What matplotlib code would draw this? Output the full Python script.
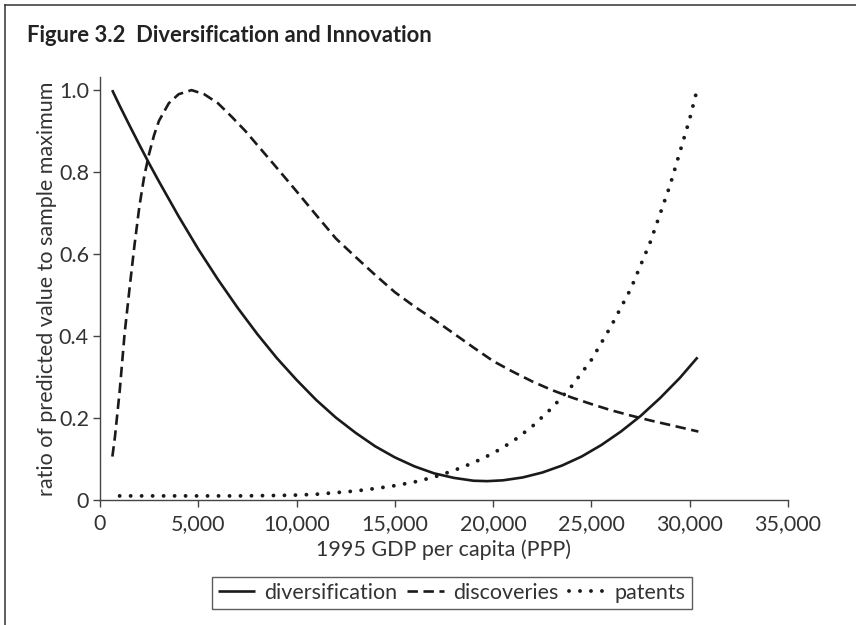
import matplotlib
matplotlib.use("Agg")
import matplotlib.pyplot as plt
from matplotlib.lines import Line2D

plt.rcParams['font.family'] = ['Lato', 'DejaVu Sans']
plt.rcParams['lines.scale_dashes'] = False

# data
div_x = [620, 1000, 1500, 2000, 2500, 3000, 4000, 5000, 6000, 7000, 8000, 9000, 10000, 11000, 12000, 13000,
         14000, 15000, 16000, 17000, 18000, 19000, 19700, 20500, 21500, 22500, 23500, 24500, 25500, 26500,
         27500, 28500, 29500, 30400]
div_y = [1.0, 0.962, 0.914, 0.867, 0.821, 0.777, 0.692, 0.612, 0.538, 0.469, 0.405, 0.346, 0.293, 0.244,
         0.201, 0.164, 0.131, 0.104, 0.082, 0.065, 0.054, 0.047, 0.046, 0.048, 0.055, 0.067, 0.084, 0.106,
         0.134, 0.167, 0.205, 0.249, 0.298, 0.348]

disc_x = [630, 760, 1000, 1250, 1500, 1750, 2000, 2250, 2500, 2750, 3000, 3500, 4000, 4660, 5300, 6000, 6700,
          7400, 8200, 9000, 10000, 11000, 12000, 13000, 14000, 15000, 16000, 17000, 18000, 19000, 20000,
          21000, 22000, 23000, 24000, 25000, 26000, 27000, 28000, 29000, 30440]
disc_y = [0.106, 0.154, 0.265, 0.405, 0.515, 0.62, 0.715, 0.79, 0.845, 0.89, 0.925, 0.968, 0.99, 1.0, 0.99,
          0.968, 0.935, 0.9, 0.855, 0.81, 0.753, 0.695, 0.638, 0.593, 0.549, 0.507, 0.472, 0.44, 0.406, 0.372,
          0.339, 0.313, 0.289, 0.268, 0.25, 0.234, 0.219, 0.206, 0.194, 0.183, 0.167]

pat_x = [1000, 4000, 7000, 9000, 10000, 11000, 12000, 13000, 14000, 15000, 16000, 17000, 18000, 19000, 20000,
         21000, 22000, 23000, 24000, 25000, 26000, 27000, 28000, 29000, 30000, 30400]
pat_y = [0.01, 0.01, 0.01, 0.011, 0.012, 0.014, 0.018, 0.022, 0.028, 0.035, 0.044, 0.056, 0.072, 0.091, 0.114,
         0.143, 0.18, 0.225, 0.278, 0.342, 0.424, 0.515, 0.63, 0.768, 0.93, 1.006]

series_names = ['diversification', 'discoveries', 'patents']
x_ticks = [0, 5000, 10000, 15000, 20000, 25000, 30000, 35000]
x_ticklabels = ['0', '5,000', '10,000', '15,000', '20,000', '25,000', '30,000', '35,000']
y_ticks = [0, 0.2, 0.4, 0.6, 0.8, 1.0]
y_ticklabels = ['0', '0.2', '0.4', '0.6', '0.8', '1.0']

fig = plt.figure(figsize=(8.56, 6.25), dpi=100)
ax = fig.add_axes([100/856, 1-500/625, 688/856, 423/625])

col = '#1a1a1a'
ax.plot(div_x, div_y, color=col, lw=1.9, solid_capstyle='butt', solid_joinstyle='round', label=series_names[0])
ax.plot(disc_x, disc_y, color=col, lw=1.9, dashes=(7.5, 4.0), dash_capstyle='butt', label=series_names[1])
ax.plot(pat_x, pat_y, color=col, lw=2.8, dashes=(0.01, 7.9), dash_capstyle='round', label=series_names[2])

ax.set_xlim(0, 35000)
ax.set_ylim(0, 1.032)
ax.set_xticks(x_ticks)
ax.set_xticklabels(x_ticklabels)
ax.set_yticks(y_ticks)
ax.set_yticklabels(y_ticklabels)
for s in ['top', 'right']:
    ax.spines[s].set_visible(False)
for s in ['left', 'bottom']:
    ax.spines[s].set_linewidth(1.0)
    ax.spines[s].set_color('#444444')
ax.tick_params(direction='out', length=5, width=1.0, color='#444444', labelsize=15.5, labelcolor='#333333')
ax.tick_params(axis='x', pad=5)
ax.tick_params(axis='y', pad=3)

ax.set_xlabel('1995 GDP per capita (PPP)', fontsize=15.5, color='#333333', labelpad=4)
ax.set_ylabel('ratio of predicted value to sample maximum', fontsize=15.5, color='#333333', labelpad=1)

leg = ax.legend(loc='upper center', bbox_to_anchor=(452/856, 1-577/625), bbox_transform=fig.transFigure,
                ncol=3, frameon=True, fancybox=False, fontsize=15.5, handlelength=1.7, handletextpad=0.45,
                columnspacing=0.45, borderpad=0.28, borderaxespad=0)
leg.get_frame().set_edgecolor('#333333')
leg.get_frame().set_linewidth(1.0)
for t in leg.get_texts():
    t.set_color('#333333')

fig.text(27/856, 1-42/625, 'Figure 3.2  Diversification and Innovation', fontsize=15.8, fontweight='bold',
         color='#222222', ha='left', va='baseline')

# frame lines
fig.add_artist(Line2D([5/856, 1], [1-5/625, 1-5/625], transform=fig.transFigure, color='#333333', lw=1.1))
fig.add_artist(Line2D([5/856, 5/856], [0, 1-5/625], transform=fig.transFigure, color='#333333', lw=1.1))

fig.savefig('out.png', dpi=100)
